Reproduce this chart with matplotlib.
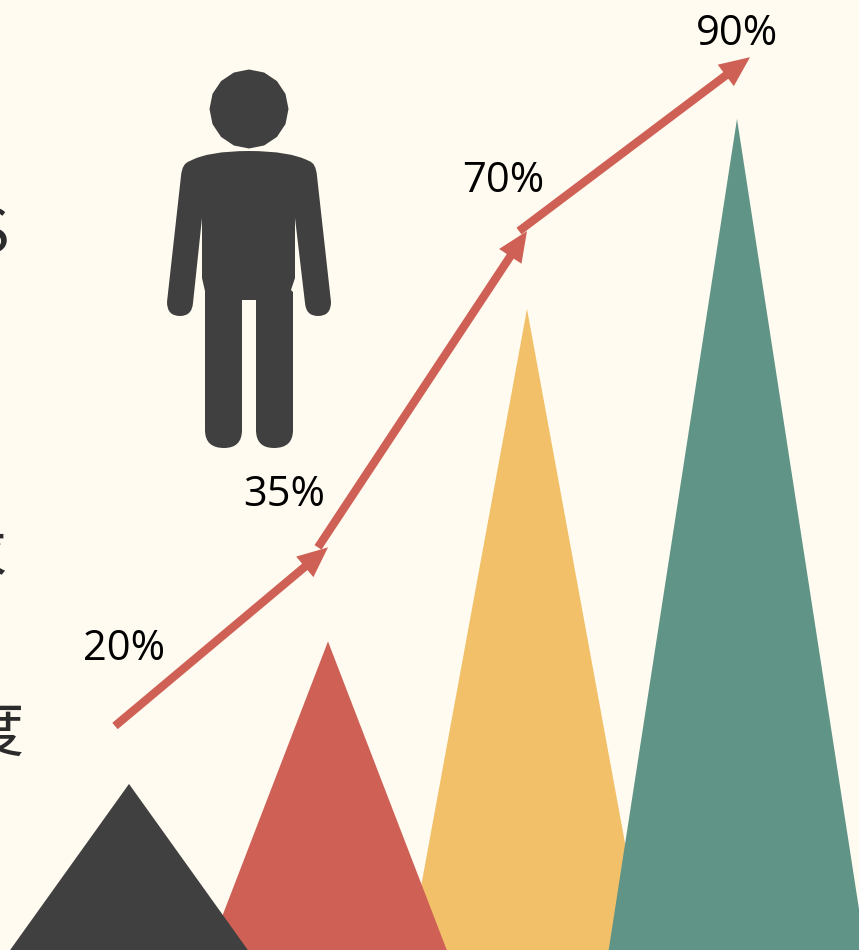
import matplotlib
matplotlib.use("Agg")
import matplotlib.pyplot as plt
from matplotlib.path import Path
from matplotlib.patches import PathPatch, RegularPolygon

# chart values
percent = [20, 35, 70, 90]
peak_x = [129, 328, 527, 737]
trend_x = [115, 328, 527, 750]
trend_y = [26.1, 44.9, 78.2, 96.5]

bg = "#FFFBF0"
dark = "#404040"
red = "#CF6055"
yellow = "#F2C069"
teal = "#5F9487"
colors = [dark, red, yellow, teal]
half_base = [136, 128, 122, 132]
# yellow sits behind its neighbours, teal goes on top
order = [2, 1, 0, 3]

fig = plt.figure(figsize=(8.59, 9.5), dpi=100, facecolor=bg)
ax = fig.add_axes([0, 0, 1, 1])
ax.set_xlim(0, 859)
ax.set_ylim(2.52, 102.52)
ax.axis("off")

for i in order:
    xs = [peak_x[i] - half_base[i], peak_x[i], peak_x[i] + half_base[i]]
    ax.fill(xs, [0, percent[i], 0], color=colors[i], lw=0, zorder=2 + order.index(i))

# trend arrows, each one starts a little behind the previous tip
start_shift = [0, -10, -8]
for i in range(3):
    ax.annotate("", xy=(trend_x[i + 1], trend_y[i + 1]),
                xytext=(trend_x[i] + start_shift[i], trend_y[i]),
                arrowprops=dict(arrowstyle="-|>,head_length=0.95,head_width=0.42",
                                color=red, lw=6, shrinkA=0, shrinkB=0,
                                mutation_scale=12, capstyle="butt", joinstyle="miter"),
                zorder=8)

# overlay in screen-like units for the figure icon and the labels
ov = fig.add_axes([0, 0, 1, 1])
ov.set_xlim(0, 859)
ov.set_ylim(950, 0)
ov.axis("off")
ov.patch.set_alpha(0)

ov.add_patch(RegularPolygon((249, 109), 16, radius=39.5, color=dark, lw=0))

M, L, C, Z = Path.MOVETO, Path.LINETO, Path.CURVE3, Path.CLOSEPOLY
body = [
    (M, (249, 151)), (C, (290, 151)), (C, (309, 161)),
    (C, (316, 163)), (C, (317, 176)),
    (L, (331, 302)), (C, (331, 316)), (C, (318, 316)),
    (C, (306, 316)), (C, (305, 303)),
    (L, (295, 218)), (L, (295, 278)), (L, (291, 290)), (L, (293, 292)),
    (L, (293, 430)), (C, (293, 448)), (C, (274, 448)),
    (C, (256, 448)), (C, (256, 430)),
    (L, (256, 300)), (L, (242, 300)),
    (L, (242, 430)), (C, (242, 448)), (C, (224, 448)),
    (C, (205, 448)), (C, (205, 430)),
    (L, (205, 291)), (L, (202, 278)), (L, (202, 218)),
    (L, (193, 303)), (C, (192, 316)), (C, (180, 316)),
    (C, (167, 316)), (C, (167, 302)),
    (L, (181, 176)), (C, (182, 163)), (C, (190, 161)),
    (C, (208, 151)), (C, (249, 151)),
    (Z, (249, 151)),
]
codes = [c for c, p in body]
verts = [p for c, p in body]
ov.add_patch(PathPatch(Path(verts, codes), color=dark, lw=0))

label_x = [124, 284, 503, 737]
label_y = [649, 495, 181, 34]
for x, y, v in zip(label_x, label_y, percent):
    ov.text(x, y, f"{v}%", ha="center", va="center", fontsize=30,
            family="Open Sans", color="black")

# column of large text running off the left edge
cjk = ["Noto Sans CJK SC", "DejaVu Sans"]
ov.text(8, 235, "S", ha="right", va="center", fontsize=44, family=cjk, color="#2B2B2B")
ov.text(6, 558, "求", ha="right", va="center", fontsize=44, family=cjk, color="#2B2B2B")
ov.text(24, 734, "度", ha="right", va="center", fontsize=44, family=cjk, color="#2B2B2B")

fig.savefig("out.png", dpi=100, facecolor=bg)
